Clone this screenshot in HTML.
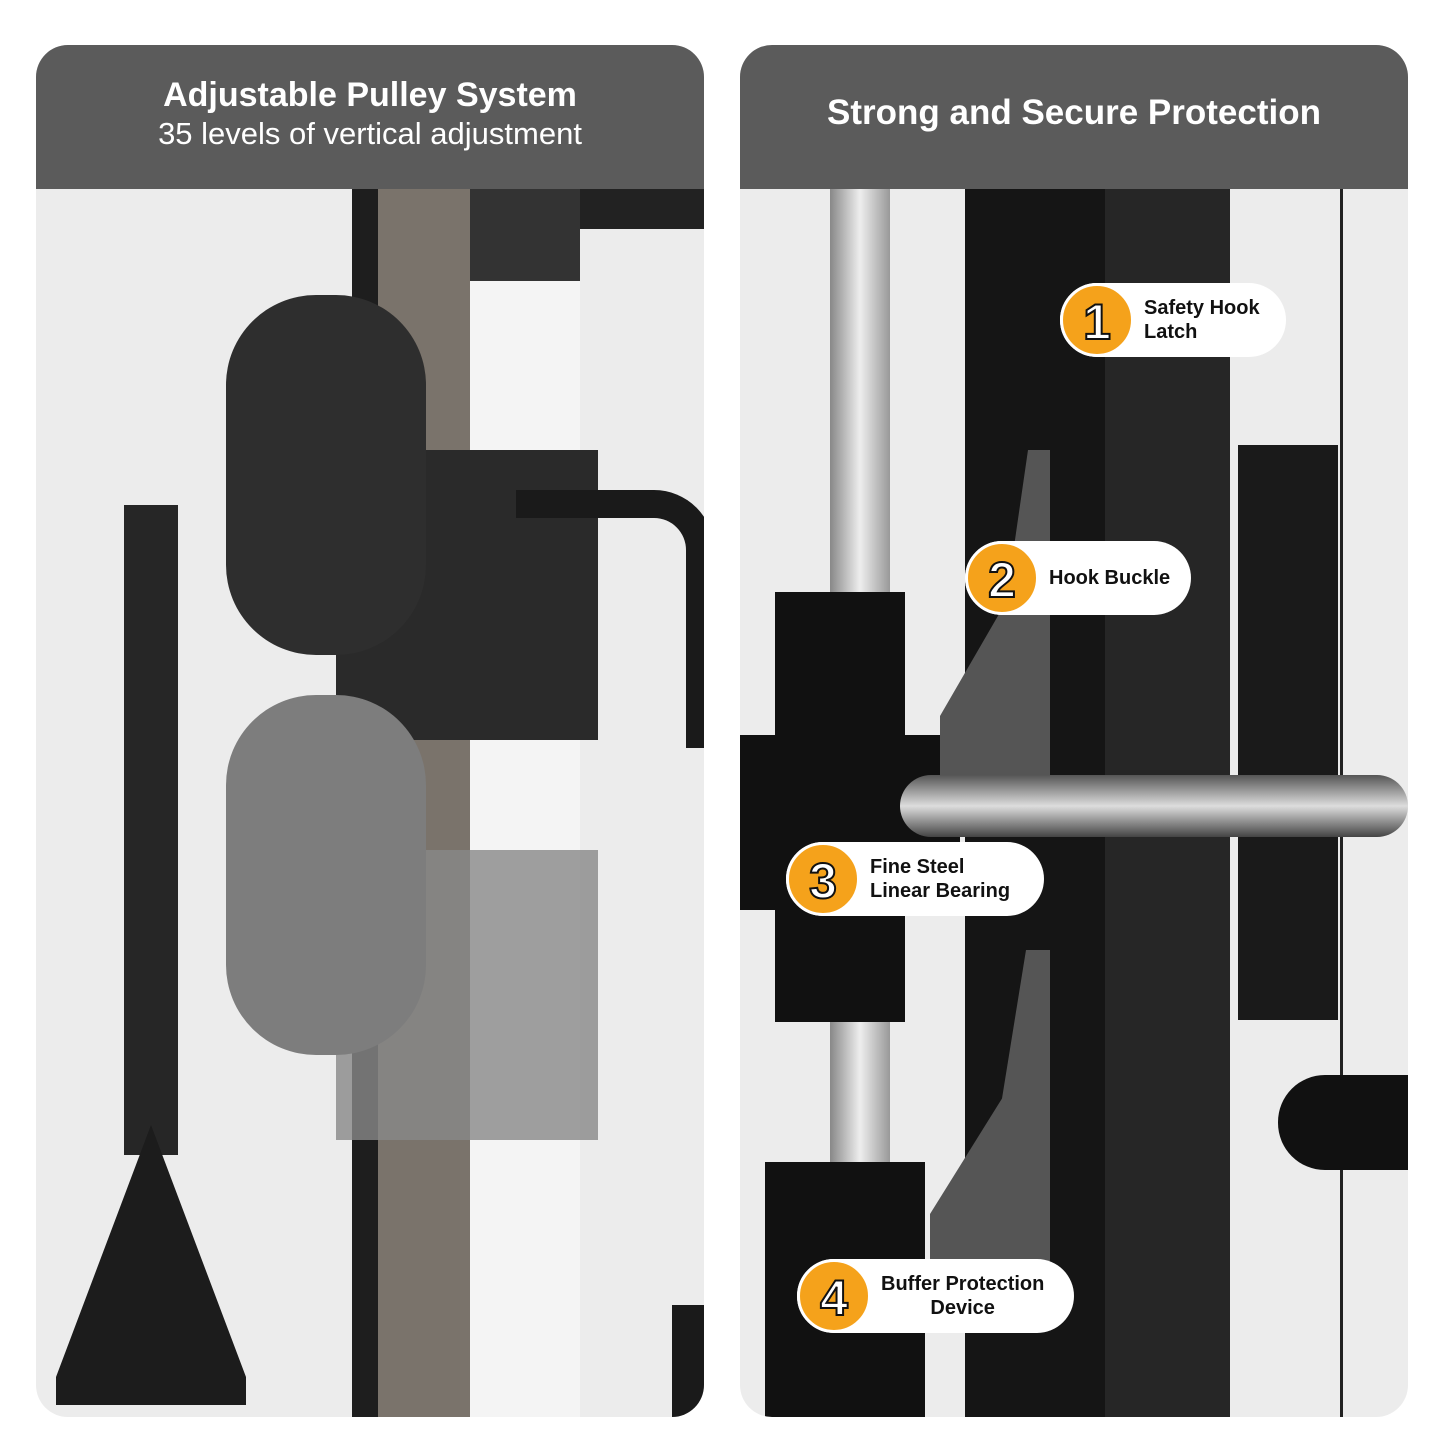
<!DOCTYPE html>
<html><head><meta charset="utf-8"><style>
body{margin:0;width:1445px;height:1445px;background:#fff;position:relative;overflow:hidden;font-family:"Liberation Sans",sans-serif}
.card{position:absolute;top:45px;width:668px;height:1372px;border-radius:32px;overflow:hidden;background:#ececec}
.hdr{position:absolute;left:0;top:0;width:100%;height:144px;background:#5b5b5b;color:#fff;text-align:center}
.a{position:absolute}
.badge{position:absolute;height:74px;background:#fff;border-radius:37px;font-weight:bold;font-size:20px;color:#111;line-height:24px}
.num{position:absolute;left:0;top:0;width:74px;height:74px;border-radius:50%;background:#f5a21b;border:3px solid #fff;box-sizing:border-box;color:#fff;font-size:50px;font-weight:bold;text-align:center;line-height:72px;-webkit-text-stroke:2px #111}
.lbl{position:absolute;left:84px;top:50%;transform:translateY(-50%)}
</style></head><body>
<div class="card" style="left:36px">
 <div class="a" style="left:316px;top:144px;width:118px;height:1228px;background:#7a736b"></div>
 <div class="a" style="left:316px;top:144px;width:26px;height:1228px;background:#1e1e1e"></div>
 <div class="a" style="left:434px;top:144px;width:110px;height:1228px;background:#f4f4f4"></div>
 <div class="a" style="left:434px;top:144px;width:110px;height:92px;background:#333"></div>
 <div class="a" style="left:544px;top:144px;width:124px;height:40px;background:#222"></div>
 <div class="a" style="left:300px;top:405px;width:262px;height:290px;background:#2a2a2a"></div>
 <div class="a" style="left:480px;top:445px;width:170px;height:230px;border:28px solid #1a1a1a;border-left:none;border-bottom:none;border-radius:0 60px 0 0"></div>
 <div class="a" style="left:190px;top:250px;width:200px;height:360px;background:#2e2e2e;border-radius:90px"></div>
 <div class="a" style="left:300px;top:805px;width:262px;height:290px;background:#888;opacity:.8"></div>
 <div class="a" style="left:190px;top:650px;width:200px;height:360px;background:#7d7d7d;border-radius:90px"></div>
 <div class="a" style="left:88px;top:460px;width:54px;height:650px;background:#262626"></div>
 <div class="a" style="left:20px;top:1080px;width:190px;height:280px;background:#1c1c1c;clip-path:polygon(50% 0,100% 90%,100% 100%,0 100%,0 90%,15% 90%,50% 22%,85% 90%,15% 90%,0 90%)"></div>
 <div class="a" style="left:636px;top:1260px;width:32px;height:112px;background:#1a1a1a"></div>
 <div class="hdr"><div style="padding-top:30px;font-size:34px;font-weight:bold;line-height:40px">Adjustable Pulley System</div><div style="font-size:31px;line-height:38px">35 levels of vertical adjustment</div></div>
</div>
<div class="card" style="left:740px">
 <div class="a" style="left:225px;top:144px;width:265px;height:1228px;background:#151515"></div>
 <div class="a" style="left:365px;top:144px;width:125px;height:1228px;background:#262626"></div>
 <div class="a" style="left:90px;top:144px;width:60px;height:1228px;background:linear-gradient(90deg,#888,#eee,#999)"></div>
 <div class="a" style="left:35px;top:547px;width:130px;height:430px;background:#111"></div>
 <div class="a" style="left:0px;top:690px;width:220px;height:175px;background:#111"></div>
 <div class="a" style="left:25px;top:1117px;width:160px;height:255px;background:#111"></div>
 <div class="a" style="left:200px;top:405px;width:110px;height:380px;background:#555;clip-path:polygon(80% 0,100% 0,100% 100%,0 100%,0 70%,60% 40%)"></div>
 <div class="a" style="left:190px;top:905px;width:120px;height:330px;background:#555;clip-path:polygon(80% 0,100% 0,100% 100%,0 100%,0 80%,60% 45%)"></div>
 <div class="a" style="left:498px;top:400px;width:100px;height:575px;background:#1a1a1a"></div>
 <div class="a" style="left:600px;top:144px;width:3px;height:1228px;background:#222"></div>
 <div class="a" style="left:160px;top:730px;width:508px;height:62px;border-radius:31px;background:linear-gradient(180deg,#555,#ddd,#444)"></div>
 <div class="a" style="left:538px;top:1030px;width:130px;height:95px;border-radius:47px 0 0 47px;background:#111"></div>
 <div class="hdr"><div style="padding-top:48px;font-size:35px;font-weight:bold">Strong and Secure Protection</div></div>
</div>
<div class="badge" style="left:1060px;top:283px;width:226px"><div class="num">1</div><div class="lbl">Safety Hook<br>Latch</div></div>
<div class="badge" style="left:965px;top:541px;width:226px"><div class="num">2</div><div class="lbl">Hook Buckle</div></div>
<div class="badge" style="left:786px;top:842px;width:258px"><div class="num">3</div><div class="lbl">Fine Steel<br>Linear Bearing</div></div>
<div class="badge" style="left:797px;top:1259px;width:277px"><div class="num">4</div><div class="lbl" style="text-align:center">Buffer Protection<br>Device</div></div>
</body></html>
